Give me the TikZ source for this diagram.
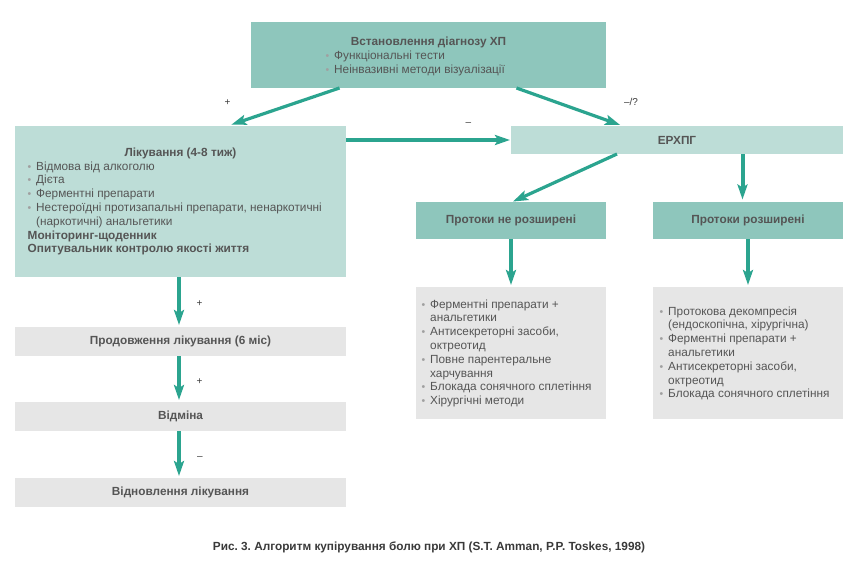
\documentclass[tikz,border=0pt]{standalone}
\usepackage{fontspec}
\setmainfont{Liberation Sans}
\usetikzlibrary{arrows.meta,calc}
\frenchspacing
\definecolor{tealdark}{HTML}{8EC6BC}
\definecolor{teallight}{HTML}{BDDDD7}
\definecolor{boxgray}{HTML}{E6E6E6}
\definecolor{arrowteal}{HTML}{2BA48F}
\definecolor{txt}{HTML}{555555}
\definecolor{bul}{HTML}{A0A0A0}
\definecolor{lbltxt}{HTML}{3A3A3A}
\newcommand{\bl}{\makebox[8.5pt][l]{\textcolor{bul}{\fontsize{10.5}{8}\selectfont •}}}
\newcommand{\ind}{\hspace*{8.5pt}}
\begin{document}
\begin{tikzpicture}[x=1pt,y=-1pt,
  font=\fontsize{11.8}{13.8}\selectfont, text=txt,
  boxbase/.style={draw=none, inner sep=0pt, outer sep=0pt, font=\fontsize{11.8}{13.8}\selectfont\bfseries},
  darkbox/.style={boxbase, fill=tealdark},
  lightbox/.style={boxbase, fill=teallight},
  graybox/.style={boxbase, fill=boxgray},
  listtext/.style={inner sep=0pt, anchor=base west, align=left},
  titletext/.style={inner sep=0pt, anchor=base, font=\fontsize{11.8}{13.8}\selectfont\bfseries},
  lbl/.style={inner sep=0pt, text=lbltxt, font=\fontsize{10}{10}\selectfont},
  arr/.style={draw=arrowteal, line width=4pt, -{Stealth[length=15pt,width=10pt,inset=3pt]}},
  darr/.style={arr, line width=3.2pt}
]
\useasboundingbox[fill=white] (0,0) rectangle (863,565);

% boxes
\node[darkbox, minimum width=355, minimum height=66] (diag) at (428.5,55) {};
\node[lightbox, minimum width=331, minimum height=151] (treat) at (180.5,201.5) {};
\node[lightbox, minimum width=332, minimum height=28] (ercp) at (677,140) {ЕРХПГ};
\node[darkbox, minimum width=190, minimum height=37] (ductsN) at (511,220.5) {Протоки не розширені};
\node[darkbox, minimum width=190, minimum height=37] (ductsY) at (748,220.5) {Протоки розширені};
\node[graybox, minimum width=190, minimum height=132] (therN) at (511,353) {};
\node[graybox, minimum width=190, minimum height=132] (therY) at (748,353) {};
\node[graybox, minimum width=331, minimum height=29] (cont) at (180.5,341.5) {Продовження лікування (6 міс)};
\node[graybox, minimum width=331, minimum height=29] (stop) at (180.5,416.5) {Відміна};
\node[graybox, minimum width=331, minimum height=29] (resume) at (180.5,492.5) {Відновлення лікування};

% texts inside boxes (anchor = baseline of the last line)
\node[titletext] (diagT) at (428.5,45) {Встановлення діагнозу ХП};
\node[listtext] (diagL) at (325.5,73.5) {\bl Функціональні тести\\\bl Неінвазивні методи візуалізації};

\node[titletext] (treatT) at (180.5,156) {Лікування (4-8 тиж)};
\node[listtext] (treatL) at (27.5,252.8) {\bl Відмова від алкоголю\\
\bl Дієта\\
\bl Ферментні препарати\\
\bl Нестероїдні протизапальні препарати, ненаркотичні\\
\ind(наркотичні) анальгетики\\
\textbf{Моніторинг-щоденник}\\
\textbf{Опитувальник контролю якості життя}};

\node[listtext] (therNL) at (421.5,404.6) {\bl Ферментні препарати +\\
\ind анальгетики\\
\bl Антисекреторні засоби,\\
\ind октреотид\\
\bl Повне парентеральне\\
\ind харчування\\
\bl Блокада сонячного сплетіння\\
\bl Хірургічні методи};

\node[listtext] (therYL) at (659.5,397.8) {\bl Протокова декомпресія\\
\ind(ендоскопічна, хірургічна)\\
\bl Ферментні препарати +\\
\ind анальгетики\\
\bl Антисекреторні засоби,\\
\ind октреотид\\
\bl Блокада сонячного сплетіння};

% connectors
\draw[darr, shorten >=4pt] ([xshift=-89pt]diag.south) -- ([xshift=47pt]treat.north);
\draw[darr, shorten >=3pt] ([xshift=88pt]diag.south) -- ([xshift=-54pt]ercp.north);
\draw[arr, shorten >=1pt] (treat.east |- ercp.west) -- (ercp.west);
\draw[darr, shorten >=1pt] ([xshift=-60pt]ercp.south) -- ([xshift=1pt]ductsN.north);
\draw[arr, shorten >=2.5pt] ([xshift=65.5pt]ercp.south) -- ([xshift=65.5pt]ercp.south |- ductsY.north);
\draw[arr, shorten >=2pt] (ductsN.south) -- (therN.north);
\draw[arr, shorten >=2pt] (ductsY.south) -- (therY.north);
\draw[arr, shorten >=2pt] ([xshift=-1.5pt]treat.south) -- ([xshift=-1.5pt]cont.north);
\draw[arr, shorten >=2pt] ([xshift=-1.5pt]cont.south) -- ([xshift=-1.5pt]stop.north);
\draw[arr, shorten >=2pt] ([xshift=-1.5pt]stop.south) -- ([xshift=-1.5pt]resume.north);

% labels
\node[lbl] (l1) at (227.5,103) {+};
\node[lbl] (l2) at (631,102) {–/?};
\node[lbl] (l3) at (468.5,124.5) {–};
\node[lbl] (l4) at (199.5,304) {+};
\node[lbl] (l5) at (199.5,382) {+};
\node[lbl] (l6) at (200,458) {–};

% caption
\node[inner sep=0pt, anchor=base, text=lbltxt, font=\fontsize{11.8}{13}\selectfont\bfseries] (cap) at (429,550.5)
  {Рис. 3. Алгоритм купірування болю при ХП (S.T. Amman, P.P. Toskes, 1998)};
\end{tikzpicture}
\end{document}
